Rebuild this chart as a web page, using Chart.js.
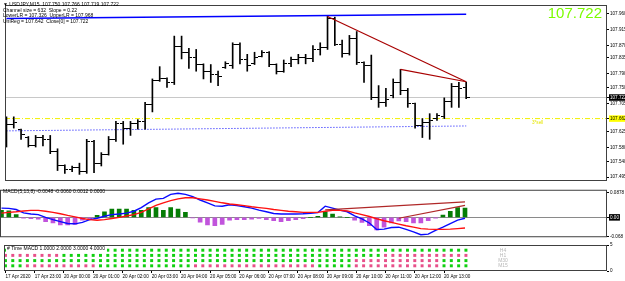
<!DOCTYPE html>
<html lang="en">
<head>
<meta charset="utf-8">
<title>USDJPY M15</title>
<script src="https://cdn.jsdelivr.net/npm/chart.js@4.4.1/dist/chart.umd.min.js"></script>
<style>
  html, body { margin: 0; padding: 0; background: #fff; overflow: hidden; }
  #chartWrap { position: relative; width: 625px; height: 281px; }
  #chartWrap canvas { position: absolute; left: 0; }
</style>
</head>
<body>
<div id="chartWrap">
  <canvas id="priceChart" width="625" height="186" style="top:0px"></canvas>
  <canvas id="macdChart" width="625" height="55" style="top:186px"></canvas>
  <canvas id="timeChart" width="625" height="40" style="top:241px"></canvas>
</div>
<script>
// Velas M15 (apertura, máximo, mínimo, cierre)
const opens = [107.608, 107.646, 107.630, 107.608, 107.584, 107.608, 107.603, 107.568,
  107.527, 107.517, 107.522, 107.511, 107.597, 107.533, 107.560, 107.603,
  107.649, 107.635, 107.649, 107.654, 107.703, 107.770, 107.775, 107.765,
  107.867, 107.851, 107.835, 107.816, 107.797, 107.789, 107.808, 107.813,
  107.872, 107.829, 107.818, 107.840, 107.851, 107.816, 107.797, 107.818,
  107.829, 107.835, 107.832, 107.859, 107.864, 107.948, 107.872, 107.848,
  107.889, 107.821, 107.813, 107.721, 107.708, 107.727, 107.765, 107.743,
  107.705, 107.641, 107.651, 107.662, 107.667, 107.711, 107.754, 107.750];
const highs = [107.667, 107.667, 107.632, 107.611, 107.614, 107.614, 107.614, 107.576,
  107.530, 107.527, 107.535, 107.603, 107.600, 107.565, 107.611, 107.654,
  107.654, 107.654, 107.659, 107.708, 107.775, 107.810, 107.778, 107.897,
  107.897, 107.862, 107.859, 107.818, 107.816, 107.797, 107.824, 107.878,
  107.878, 107.845, 107.851, 107.856, 107.853, 107.818, 107.829, 107.837,
  107.845, 107.845, 107.870, 107.878, 107.953, 107.951, 107.886, 107.899,
  107.910, 107.824, 107.843, 107.756, 107.748, 107.775, 107.802, 107.748,
  107.706, 107.662, 107.676, 107.676, 107.721, 107.762, 107.765, 107.766];
const lows = [107.581, 107.635, 107.603, 107.581, 107.581, 107.584, 107.562, 107.514,
  107.506, 107.511, 107.503, 107.506, 107.508, 107.527, 107.558, 107.597,
  107.589, 107.614, 107.632, 107.632, 107.681, 107.768, 107.751, 107.759,
  107.832, 107.805, 107.797, 107.775, 107.765, 107.756, 107.805, 107.805,
  107.818, 107.797, 107.816, 107.838, 107.810, 107.789, 107.794, 107.810,
  107.818, 107.818, 107.824, 107.843, 107.859, 107.870, 107.837, 107.843,
  107.816, 107.765, 107.716, 107.694, 107.697, 107.721, 107.730, 107.694,
  107.635, 107.608, 107.603, 107.657, 107.662, 107.694, 107.694, 107.719];
const closes = [107.646, 107.651, 107.616, 107.584, 107.608, 107.603, 107.568, 107.527,
  107.517, 107.522, 107.511, 107.597, 107.533, 107.560, 107.603, 107.649,
  107.635, 107.649, 107.654, 107.703, 107.770, 107.775, 107.765, 107.867,
  107.851, 107.835, 107.816, 107.797, 107.789, 107.781, 107.818, 107.872,
  107.829, 107.813, 107.835, 107.851, 107.816, 107.797, 107.818, 107.829,
  107.835, 107.832, 107.859, 107.864, 107.948, 107.872, 107.848, 107.889,
  107.821, 107.813, 107.721, 107.708, 107.716, 107.765, 107.743, 107.705,
  107.641, 107.651, 107.657, 107.670, 107.711, 107.754, 107.748, 107.722];

// Niveles y líneas dibujadas sobre el precio
const priceTicks = [107.960, 107.915, 107.870, 107.835, 107.790, 107.750, 107.705,
  107.625, 107.580, 107.540, 107.495];
const yellowLevel = 107.662;
const channelBars = [0, 63];
const channelUpper = [107.947, 107.959];
const channelMid = [107.627, 107.641];
const trendBarsA = [44, 63];
const trendPricesA = [107.953, 107.767];
const trendBarsB = [54, 63];
const trendPricesB = [107.802, 107.767];

// MACD(5,13,8)
const macdMain = [0.033, 0.032, 0.028, 0.016, 0.012, 0.010, 0.000, -0.008, -0.015, -0.022,
  -0.023, -0.018, -0.008, -0.003, 0.004, 0.010, 0.012, 0.015, 0.022, 0.035,
  0.052, 0.065, 0.068, 0.082, 0.086, 0.082, 0.074, 0.062, 0.052, 0.041,
  0.040, 0.045, 0.042, 0.038, 0.033, 0.026, 0.020, 0.014, 0.012, 0.012,
  0.012, 0.013, 0.015, 0.017, 0.040, 0.033, 0.026, 0.020, 0.005, -0.005,
  -0.020, -0.043, -0.042, -0.036, -0.035, -0.043, -0.052, -0.062, -0.060, -0.046,
  -0.035, -0.022, -0.010, -0.003];
const macdSignal = [0.015, 0.018, 0.020, 0.023, 0.025, 0.025, 0.022, 0.018, 0.013, 0.007,
  0.002, -0.004, -0.008, -0.010, -0.008, -0.004, 0.000, 0.005, 0.010, 0.018,
  0.030, 0.043, 0.052, 0.060, 0.066, 0.070, 0.070, 0.066, 0.062, 0.057,
  0.052, 0.048, 0.045, 0.042, 0.038, 0.035, 0.032, 0.028, 0.025, 0.022,
  0.020, 0.018, 0.018, 0.018, 0.022, 0.025, 0.025, 0.023, 0.016, 0.010,
  0.003, -0.005, -0.012, -0.018, -0.024, -0.030, -0.035, -0.040, -0.042, -0.043,
  -0.043, -0.042, -0.040, -0.038];
const macdHist = [0.025, 0.023, 0.010, -0.003, -0.005, -0.006, -0.015, -0.020, -0.027, -0.027,
  -0.025, -0.010, -0.005, 0.007, 0.020, 0.030, 0.030, 0.030, 0.025, 0.025,
  0.035, 0.035, 0.025, 0.035, 0.030, 0.018, -0.002, -0.017, -0.027, -0.030,
  -0.025, -0.010, -0.008, -0.008, -0.006, -0.004, -0.008, -0.012, -0.015, -0.012,
  -0.008, -0.005, 0.000, 0.004, 0.020, 0.012, 0.002, 0.000, -0.010, -0.018,
  -0.030, -0.045, -0.035, -0.020, -0.013, -0.015, -0.020, -0.020, -0.012, -0.003,
  0.008, 0.022, 0.035, 0.033];
const macdTicks = [-0.068, 0, 0.0878];
const macdTrendBarsA = [44, 63];
const macdTrendA = [0.027, 0.055];
const macdTrendBarsB = [54, 63];
const macdTrendB = [-0.003, 0.043];

// Time MACD: 1 = alcista (verde), 0 = bajista (rosa)
const h4Row = [1,1,1,1,1,1,1,1, 1,1,1,1,1,1,1,1, 1,1,1,1,1,1,1,1, 1,1,1,1,1,1,1,1,
  1,1,1,1,1,1,1,1, 1,1,1,1,1,1,1,1, 1,1,1,1,1,1,1,1, 1,1,1,1,1,1,1,1];
const h1Row = [0,0,0,0,0,0,0,0, 1,1,1,1,1,1,1,1, 1,1,1,1,1,1,1,1, 1,1,1,1,1,1,1,1,
  1,1,1,1,1,1,1,1, 1,1,1,1,1,1,1,1, 1,1,1,1,0,0,0,0, 0,0,0,0,0,0,0,0];
const m30Row = [1,1,1,1,1,1,1,1, 1,1,1,1,1,1,1,1, 1,1,1,1,1,1,1,1, 1,1,1,1,1,1,1,1,
  1,1,1,1,1,1,1,1, 1,1,1,1,1,1,1,1, 0,0,0,0,0,0,0,0, 0,0,0,0,1,1,1,1];
const m15Row = [1,1,1,0,0,0,0,0, 0,0,0,0,0,1,1,1, 1,1,1,1,1,1,1,1, 1,1,0,0,0,0,0,0,
  0,0,0,0,0,0,0,0, 0,0,0,1,1,1,1,1, 0,0,0,0,0,0,0,0, 0,0,0,0,1,1,1,1];
const rowNames = ['H4', 'H1', 'M30', 'M15'];

// Eje de tiempo
const timeBars = [0, 4, 8, 12, 16, 20, 24, 28, 32, 36, 40, 44, 48, 52, 56, 60];
const timeLabels = ['17 Apr 2020', '17 Apr 23:00', '20 Apr 00:00', '20 Apr 01:00',
  '20 Apr 02:00', '20 Apr 03:00', '20 Apr 04:00', '20 Apr 05:00', '20 Apr 06:00',
  '20 Apr 07:00', '20 Apr 08:00', '20 Apr 09:00', '20 Apr 10:00', '20 Apr 11:00',
  '20 Apr 12:00', '20 Apr 13:00'];

const headerLines = ['\u25BC USDJPY,M15  107.750 107.766 107.719 107.722',
  'Channel size = 632  Slope = 0.22',
  'LowerLR = 107.326  UpperLR = 107.968',
  'UniReg = 107.642  Close[0] = 107.722'];
const macdTitle = 'MACD(5,13,8) -0.0048 -0.0060 0.0012 0.0000';
const timeTitle = '# Time MACD 1.0000 2.0000 3.0000 4.0000';

// ---------------------------------------------------------------
const X_MIN = -0.2, X_MAX = 82.3;
const FAMILY = "'Liberation Sans', 'DejaVu Sans', sans-serif";
const lastClose = closes[closes.length - 1];
const near = (a, b) => Math.abs(a - b) < 1e-7;

Chart.defaults.font.family = FAMILY;
Chart.defaults.animation = false;
Chart.defaults.events = [];
Chart.defaults.plugins.legend.display = false;
Chart.defaults.plugins.tooltip.enabled = false;

// Marco de cada panel
const framePlugin = {
    id: 'frame',
    afterDraw(chart) {
        const { ctx, chartArea: a } = chart;
        ctx.save();
        ctx.strokeStyle = '#404040';
        ctx.lineWidth = 1;
        ctx.strokeRect(a.left + 0.5, a.top + 0.5, a.right - a.left - 1, a.bottom - a.top - 1);
        ctx.restore();
    }
};

// Eje derecho con ancho fijo para alinear los tres paneles
const rightAxis = (min, max, tickValues, fmt, boxFor) => ({
    position: 'right',
    min, max,
    afterBuildTicks: s => { s.ticks = tickValues.map(v => ({ value: v })); },
    afterFit: s => { s.width = 18; },
    border: { display: false },
    grid: { drawOnChartArea: false, tickLength: 2, color: '#000' },
    ticks: {
        autoSkip: false,
        padding: 1,
        font: { size: 4.6 },
        callback: v => fmt(v),
        showLabelBackdrop: true,
        backdropPadding: { x: 1, y: 0.5 },
        backdropColor: ctx => (boxFor(ctx.tick.value) || {}).bg || 'rgba(0,0,0,0)',
        color: ctx => (boxFor(ctx.tick.value) || {}).fg || '#000'
    }
});

const hiddenX = { type: 'linear', min: X_MIN, max: X_MAX, offset: false, display: false };

// Marcas de apertura (izquierda) y cierre (derecha) como imagen de punto
const makeTick = left => {
    const c = document.createElement('canvas');
    c.width = 7; c.height = 1;
    const g = c.getContext('2d');
    g.fillStyle = '#000';
    g.fillRect(left ? 0 : 4, 0, 3, 1);
    return c;
};
const openTick = makeTick(true);
const closeTick = makeTick(false);

const lineSet = (xs, ys, color, width, extra) => Object.assign({
    type: 'line',
    data: xs.map((x, k) => ({ x, y: ys[k] })),
    borderColor: color,
    borderWidth: width,
    pointRadius: 0,
    tension: 0
}, extra || {});

// ---------------- Panel de precio ----------------
const priceDecor = {
    id: 'priceDecor',
    afterDraw(chart) {
        const { ctx, chartArea: a, scales } = chart;
        ctx.save();
        ctx.font = `5px ${FAMILY}`;
        ctx.fillStyle = '#000';
        ctx.textBaseline = 'middle';
        headerLines.forEach((t, k) => ctx.fillText(t, 3, 5 + k * 5.4));
        ctx.font = `15px ${FAMILY}`;
        ctx.fillStyle = '#7cfc00';
        ctx.textAlign = 'right';
        ctx.textBaseline = 'alphabetic';
        ctx.fillText(lastClose.toFixed(3), a.right - 5, 18);
        ctx.font = `4.6px ${FAMILY}`;
        ctx.fillStyle = '#e6e600';
        ctx.textAlign = 'left';
        ctx.fillText('3*sell', 532, scales.y.getPixelForValue(yellowLevel) + 5);
        ctx.restore();
    }
};

const barIdx = closes.map((_, i) => i);

new Chart(document.getElementById('priceChart'), {
    type: 'bar',
    data: {
        datasets: [
            lineSet([X_MIN, X_MAX], [lastClose, lastClose], '#c8c8c8', 1, { order: 9 }),
            lineSet([X_MIN, X_MAX], [yellowLevel, yellowLevel], '#f2f200', 1, { order: 8, borderDash: [5, 2, 1, 2] }),
            lineSet(channelBars, channelMid, '#0000ff', 1, { order: 7, borderDash: [1, 2] }),
            lineSet(channelBars, channelUpper, '#0000ff', 1.5, { order: 6 }),
            {
                type: 'bar',
                data: barIdx.map(i => ({ x: i, y: [lows[i], highs[i]] })),
                backgroundColor: '#000',
                barThickness: 1,
                order: 3
            },
            {
                type: 'line', showLine: false,
                data: barIdx.map(i => ({ x: i, y: opens[i] })),
                pointStyle: openTick, order: 2
            },
            {
                type: 'line', showLine: false,
                data: barIdx.map(i => ({ x: i, y: closes[i] })),
                pointStyle: closeTick, order: 2
            },
            lineSet(trendBarsA, trendPricesA, '#a80000', 1.2, { order: 0 }),
            lineSet(trendBarsB, trendPricesB, '#a80000', 1.2, { order: 0 })
        ]
    },
    options: {
        responsive: false,
        layout: { padding: 0 },
        scales: {
            x: hiddenX,
            y: rightAxis(107.4842, 107.9856,
                priceTicks.concat([lastClose, yellowLevel]).sort((a, b) => b - a),
                v => v.toFixed(3),
                v => near(v, lastClose) ? { bg: '#000', fg: '#fff' }
                   : near(v, yellowLevel) ? { bg: '#ffff00', fg: '#000' } : null)
        }
    },
    plugins: [framePlugin, priceDecor]
});

// ---------------- Panel MACD ----------------
const macdDecor = {
    id: 'macdDecor',
    afterDraw(chart) {
        const { ctx } = chart;
        ctx.save();
        ctx.font = `5px ${FAMILY}`;
        ctx.fillStyle = '#000';
        ctx.textBaseline = 'middle';
        ctx.fillText(macdTitle, 3, 6);
        ctx.restore();
    }
};

const macdAxis = rightAxis(-0.0709, 0.0986, macdTicks,
    v => v === 0 ? '0.00' : String(v),
    v => v === 0 ? { bg: '#000', fg: '#fff' } : null);
macdAxis.grid = {
    drawOnChartArea: true, tickLength: 2, tickColor: '#000',
    color: ctx => ctx.tick && ctx.tick.value === 0 ? '#8a8a8a' : 'rgba(0,0,0,0)'
};

new Chart(document.getElementById('macdChart'), {
    type: 'bar',
    data: {
        datasets: [
            {
                type: 'bar',
                data: barIdx.map(i => ({ x: i, y: macdHist[i] })),
                backgroundColor: macdHist.map(v => v >= 0 ? '#057d05' : '#c154dc'),
                barThickness: 4,
                order: 5
            },
            lineSet(barIdx, macdMain, '#0a0aff', 1.4, { order: 2 }),
            lineSet(barIdx, macdSignal, '#ff1010', 1.4, { order: 1 }),
            lineSet(macdTrendBarsA, macdTrendA, '#b02828', 1.2, { order: 0 }),
            lineSet(macdTrendBarsB, macdTrendB, '#b02828', 1.2, { order: 0 })
        ]
    },
    options: {
        responsive: false,
        layout: { padding: 0 },
        scales: { x: hiddenX, y: macdAxis }
    },
    plugins: [framePlugin, macdDecor]
});

// ---------------- Panel Time MACD ----------------
const rows = [h4Row, h1Row, m30Row, m15Row];
const timeDecor = {
    id: 'timeDecor',
    afterDraw(chart) {
        const { ctx, chartArea: a, scales } = chart;
        ctx.save();
        ctx.font = `5px ${FAMILY}`;
        const w = ctx.measureText(timeTitle).width;
        ctx.fillStyle = '#fff';
        ctx.fillRect(a.left + 2, a.top + 1, w + 3, 6);
        ctx.fillStyle = '#000';
        ctx.textBaseline = 'middle';
        ctx.fillText(timeTitle, a.left + 3, a.top + 4);
        ctx.fillStyle = '#b8b8b8';
        ctx.textAlign = 'center';
        rowNames.forEach((n, k) => ctx.fillText(n, 503, scales.y.getPixelForValue(4 - k)));
        ctx.restore();
    }
};

new Chart(document.getElementById('timeChart'), {
    type: 'scatter',
    data: {
        datasets: rows.map((row, k) => ({
            data: row.map((_, i) => ({ x: i, y: 4 - k })),
            pointStyle: 'rect',
            pointRadius: 2.1,
            pointBorderWidth: 0,
            pointBackgroundColor: row.map(v => v ? '#10d010' : '#e8508a')
        }))
    },
    options: {
        responsive: false,
        layout: { padding: { top: 2, left: 0, right: 0, bottom: 0 } },
        scales: {
            x: {
                type: 'linear', min: X_MIN, max: X_MAX, offset: false,
                afterBuildTicks: s => { s.ticks = timeBars.map(v => ({ value: v })); },
                afterFit: s => { s.height = 10; s.paddingLeft = 0; s.paddingRight = 0; },
                border: { display: false },
                grid: { drawOnChartArea: false, tickLength: 2, color: '#000' },
                ticks: {
                    autoSkip: false, maxRotation: 0, minRotation: 0,
                    align: 'start', padding: 1,
                    font: { size: 4.6 }, color: '#000',
                    callback: (v, idx) => timeLabels[idx]
                }
            },
            y: rightAxis(0, 5, [0, 5], v => String(v), () => null)
        }
    },
    plugins: [framePlugin, timeDecor]
});
</script>
</body>
</html>
